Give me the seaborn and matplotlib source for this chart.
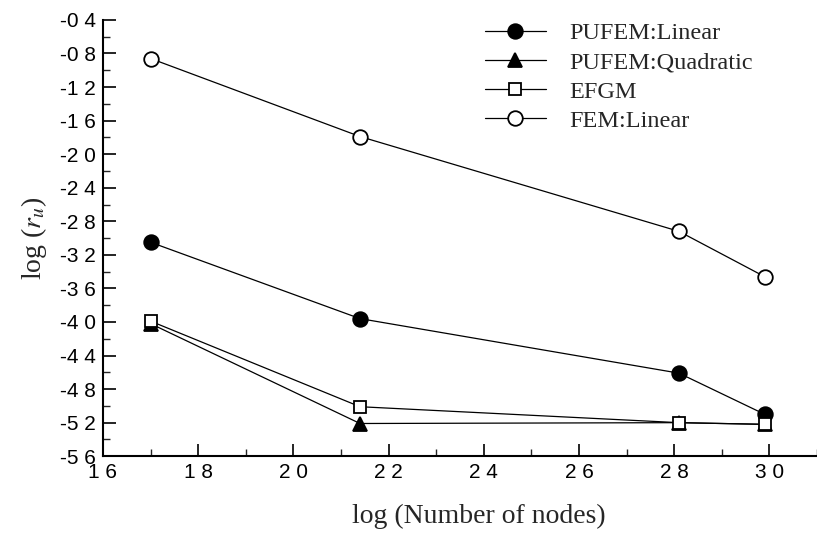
import numpy as np
import pandas as pd
import matplotlib
matplotlib.use("Agg")
import matplotlib.pyplot as plt
import seaborn as sns
from matplotlib.ticker import MultipleLocator

# values
log_nodes = [1.70, 2.14, 2.81, 2.99]
pufem_linear = [-3.05, -3.96, -4.61, -5.10]
pufem_quadratic = [-4.02, -5.21, -5.20, -5.22]
efgm = [-3.99, -5.01, -5.20, -5.22]
fem_linear = [-0.86, -1.79, -2.92, -3.46]

methods = ["PUFEM:Linear", "PUFEM:Quadratic", "EFGM", "FEM:Linear"]
x_ticks = [1.6, 1.8, 2.0, 2.2, 2.4, 2.6, 2.8, 3.0]
x_ticklabels = ["1 6", "1 8", "2 0", "2 2", "2 4", "2 6", "2 8", "3 0"]
y_ticks = [-0.4, -0.8, -1.2, -1.6, -2.0, -2.4, -2.8, -3.2, -3.6, -4.0, -4.4, -4.8, -5.2, -5.6]
y_ticklabels = ["-0 4", "-0 8", "-1 2", "-1 6", "-2 0", "-2 4", "-2 8", "-3 2",
                "-3 6", "-4 0", "-4 4", "-4 8", "-5 2", "-5 6"]

df = pd.DataFrame({
    "x": log_nodes * 4,
    "y": pufem_linear + pufem_quadratic + efgm + fem_linear,
    "method": np.repeat(methods, len(log_nodes)),
})

sns.set_theme(style="white")
plt.rcParams["font.family"] = ["Liberation Sans", "DejaVu Sans"]
plt.rcParams["mathtext.fontset"] = "stix"

fig = plt.figure(figsize=(8.17, 5.38), dpi=100)
ax = fig.add_axes([0.126, 0.152, 0.874, 0.811])

styles = {
    "PUFEM:Linear": dict(marker="o", mfc="black", ms=10.5),
    "PUFEM:Quadratic": dict(marker="^", mfc="black", ms=10.5),
    "EFGM": dict(marker="s", mfc="white", ms=9),
    "FEM:Linear": dict(marker="o", mfc="white", ms=10.5),
}
for m in methods:
    d = df[df["method"] == m]
    st = styles[m]
    sns.lineplot(data=d, x="x", y="y", ax=ax, color="black", lw=0.9,
                 marker=st["marker"], markerfacecolor=st["mfc"],
                 markeredgecolor="black", markeredgewidth=1.3,
                 markersize=st["ms"], label=m)

ax.set_xlim(1.6, 3.1)
ax.set_ylim(-5.6, -0.4)
ax.set_xticks(x_ticks)
ax.set_xticklabels(x_ticklabels)
ax.set_yticks(y_ticks)
ax.set_yticklabels(y_ticklabels)
ax.xaxis.set_minor_locator(MultipleLocator(0.1))
ax.yaxis.set_minor_locator(MultipleLocator(0.2))
ax.tick_params(which="major", direction="in", length=9, width=1.2, labelsize=15,
               colors="black", pad=5, bottom=True, left=True)
ax.tick_params(which="minor", direction="in", length=5, width=1.0,
               bottom=True, left=True)

for s in ["top", "right"]:
    ax.spines[s].set_visible(False)
for s in ["left", "bottom"]:
    ax.spines[s].set_color("black")
    ax.spines[s].set_linewidth(1.5)

ax.set_xlabel("log (Number of nodes)", family="Liberation Serif", fontsize=20)
ax.xaxis.set_label_coords(0.527, -0.11)
ax.set_ylabel(r"log ($r_u$)", family="Liberation Serif", fontsize=20, labelpad=8)

leg = ax.legend(loc="upper left", bbox_to_anchor=(485 / 817, 1 - 22 / 538),
                bbox_transform=fig.transFigure, frameon=False, borderpad=0,
                borderaxespad=0, prop={"family": "Liberation Serif", "size": 17.5},
                handlelength=2.5, labelspacing=0.3, handletextpad=0.95)

fig.savefig("out.png", dpi=100)
